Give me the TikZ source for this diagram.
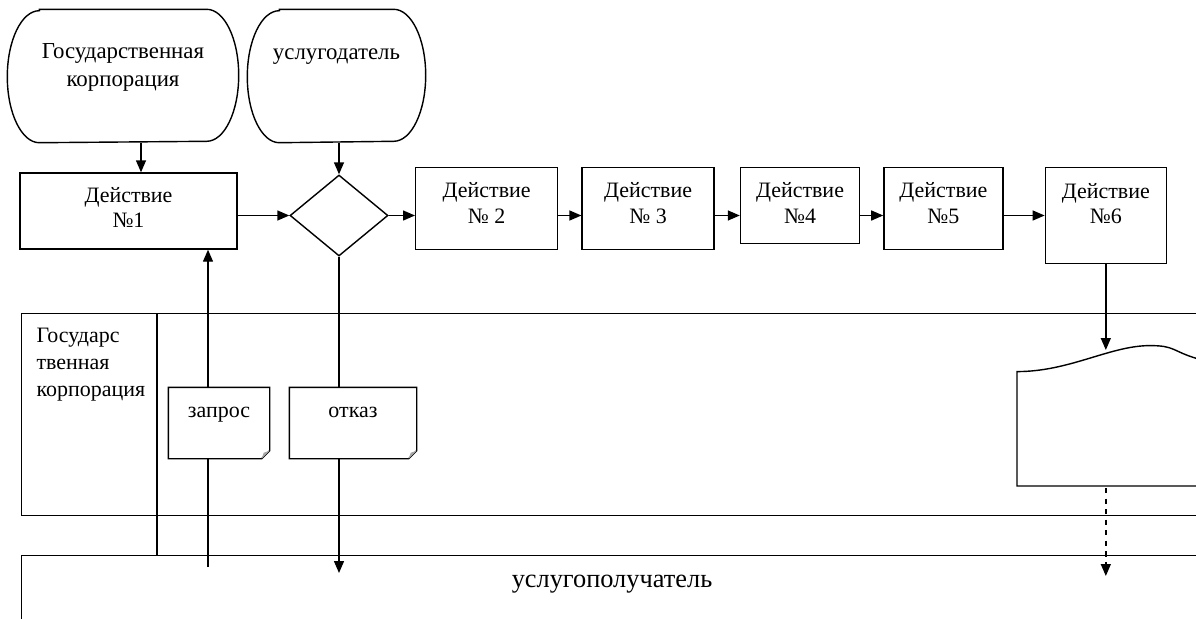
\documentclass[tikz,border=0pt]{standalone}
\usepackage{fontspec}
\setmainfont{Liberation Serif}
\usetikzlibrary{shapes,arrows.meta,positioning,calc}

\begin{document}
\begin{tikzpicture}[line width=0.8pt, >={Triangle[length=2.4mm,width=2mm]},
    every node/.style={font=\fontsize{12.5}{14.5}\selectfont},
    actbox/.style={rectangle, draw, align=center, minimum height=1.64cm, text depth=6.4pt},
    termbox/.style={rectangle, minimum height=2.64cm},
    notebox/.style={rectangle, minimum width=2cm, minimum height=1.4cm}]
    \clip (0,0) rectangle (23.92,-12.38);

    % participants
    \node (corp) [termbox, minimum width=4.6cm] at (2.46,-1.52) {};
    \node (corptext) [below=0.56cm of corp.north, align=center, font=\fontsize{13}{16}\selectfont] {Государственная\\корпорация};
    \node (prov) [termbox, minimum width=3.54cm] at (6.73,-1.52) {};
    \node (provtext) [below=0.66cm of prov.north, font=\fontsize{13}{16}\selectfont] {услугодатель};
    \foreach \n in {corp,prov} {
        \draw ([xshift=0.64cm]\n.north west) -- ([xshift=-0.64cm]\n.north east)
            arc[start angle=90, end angle=-90, x radius=0.64cm, y radius=1.32cm]
            -- ([xshift=0.64cm]\n.south west)
            arc[start angle=270, end angle=90, x radius=0.64cm, y radius=1.32cm] -- cycle;
    }

    % steps
    \node (act1) [actbox, minimum width=4.34cm, minimum height=1.52cm, text depth=4pt] at (2.57,-4.22) {Действие\\№1};
    \node (dec) [diamond, draw, minimum width=1.96cm, minimum height=1.62cm, inner sep=0pt] at (6.78,-4.31) {};
    \node (act2) [actbox, minimum width=2.84cm, anchor=north west] at (8.30,-3.34) {Действие\\№ 2};
    \node (act3) [actbox, minimum width=2.64cm, right=0.46cm of act2.north east, anchor=north west] {Действие\\№ 3};
    \node (act4) [actbox, minimum width=2.38cm, minimum height=1.52cm, text depth=3pt, right=0.5cm of act3.north east, anchor=north west] {Действие\\№4};
    \node (act5) [actbox, minimum width=2.38cm, right=0.46cm of act4.north east, anchor=north west] {Действие\\№5};
    \node (act6) [actbox, minimum width=2.42cm, minimum height=1.92cm, text depth=14pt, right=0.82cm of act5.north east, anchor=north west] {Действие\\№6};

    % lanes
    \node (gclane) [rectangle, draw, minimum width=24.6cm, minimum height=4.04cm, anchor=north west] at (0.42,-6.26) {};
    \node (rcvlane) [rectangle, draw, minimum width=24.6cm, minimum height=1.8cm, anchor=north west] at (0.42,-11.10) {};
    \draw ([xshift=2.72cm]gclane.north west) -- ([xshift=2.72cm]gclane.north west |- rcvlane.north);
    \node (gctext) [align=left, anchor=north west, font=\fontsize{12.5}{15.3}\selectfont] at (0.60,-6.43) {Государс\\твенная\\корпорация};
    \node (rcvtext) [font=\fontsize{15}{18}\selectfont] at (12.24,-11.68) {услугополучатель};

    % documents
    \node (req) [notebox] at (4.38,-8.46) {};
    \node (reqtext) [below=0.26cm of req.north] {запрос};
    \node (deny) [notebox, minimum width=2.52cm] at (7.06,-8.46) {};
    \node (denytext) [below=0.26cm of deny.north] {отказ};
    \foreach \n in {req,deny} {
        \draw (\n.south west) -- (\n.north west) -- (\n.north east) -- ([yshift=0.16cm]\n.south east) -- ([xshift=-0.16cm]\n.south east) -- cycle;
        \fill[gray!70] ([yshift=0.16cm]\n.south east) -- ([xshift=-0.16cm]\n.south east) -- ([xshift=-0.12cm,yshift=0.12cm]\n.south east) -- cycle;
    }
    \node (doc) [minimum width=4.06cm, minimum height=2.78cm, anchor=south west] at (20.34,-9.72) {};
    \draw (doc.south east) -- (doc.south west) -- ([yshift=-0.52cm]doc.north west)
        .. controls +(1.06,0) and +(-0.8,0) .. ([xshift=2.66cm]doc.north west)
        .. controls +(0.5,0) and +(-0.5,0.15) .. ([xshift=3.6cm,yshift=-0.26cm]doc.north west);

    \coordinate (rqend) at (4.16,-11.34);
    \coordinate (dnend) at (6.78,-11.46);
    \coordinate (docin) at (22.2,-7.0);
    \coordinate (docend) at (22.2,-11.52);

    % connectors
    \draw [->] ([xshift=0.36cm]corp.south) -- ([xshift=0.36cm]corp.south |- act1.north);
    \draw [->] (prov.south -| dec.north) -- (dec.north);
    \draw [->] (act1.east |- dec.west) -- (dec.west);
    \draw [->] (dec.east) -- (act2.west |- dec.east);
    \draw [->] (act2.east |- dec.east) -- (act3.west |- dec.east);
    \draw [->] (act3.east |- dec.east) -- (act4.west |- dec.east);
    \draw [->] (act4.east |- dec.east) -- (act5.west |- dec.east);
    \draw [->] (act5.east |- dec.east) -- (act6.west |- dec.east);
    \draw (rqend) -- (rqend |- req.south);
    \draw [->] (rqend |- req.north) -- (rqend |- act1.south);
    \draw (dec.south) -- (dec.south |- deny.north);
    \draw [->] (dec.south |- deny.south) -- (dnend);
    \draw [->] (act6.south) -- (act6.south |- docin);
    \draw [->, dashed] ([yshift=-0.04cm]act6.south |- doc.south) -- (act6.south |- docend);
\end{tikzpicture}
\end{document}
